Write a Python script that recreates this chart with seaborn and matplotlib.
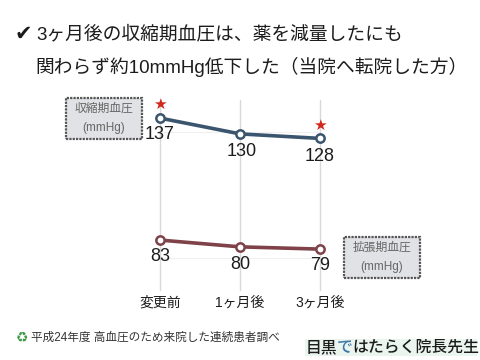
import matplotlib
matplotlib.use("Agg")
import matplotlib.pyplot as plt
from matplotlib.patches import Rectangle
import pandas as pd
import seaborn as sns

# values
periods = ["変更前", "1ヶ月後", "3ヶ月後"]
systolic = [137, 130, 128]
diastolic = [83, 80, 79]
star_flags = [True, False, True]
grid_values = [131, 75]

sns.set_theme(style="white")
plt.rcParams['font.family'] = ['Liberation Sans', 'Noto Sans CJK JP', 'DejaVu Sans']

W, H = 480, 360
NAVY = "#3b556e"
WINE = "#7f4249"
TEXT = "#1c1c1c"

fig = plt.figure(figsize=(4.8, 3.6), dpi=100, facecolor="white")


def fx(px):
    return px / W


def fy(py):
    return 1 - py / H


# axes box runs from first to last category, 100..290 px high
ax = fig.add_axes([fx(160), fy(290), fx(160), (290 - 100) / H])
ax.set_xlim(0, 2)
ax.set_ylim(60.9, 145)
ax.patch.set_alpha(0)

df = pd.DataFrame({"x": range(len(periods)), "sys": systolic, "dia": diastolic})

for v in grid_values:
    ax.axhline(v, color="#f0f0f0", lw=0.8, zorder=0)
for i in df["x"]:
    ax.axvline(i, color="#d9d9d9", lw=1, zorder=0, clip_on=False)

for col, c in [("sys", NAVY), ("dia", WINE)]:
    sns.lineplot(data=df, x="x", y=col, ax=ax, color=c, lw=2.6, marker="o", ms=6,
                 mfc="white", mec=c, mew=1.8, clip_on=False, legend=False, zorder=3)

sys_offsets = [(0, -12), (1, -12.5), (0, -13)]
dia_offsets = [(0, -12), (0, -12.5), (0, -12)]
for i in df["x"]:
    ax.annotate(str(systolic[i]), (i, systolic[i]), xytext=sys_offsets[i], textcoords="offset points",
                ha="center", va="center", fontsize=13, color=TEXT, zorder=5)
    ax.annotate(str(diastolic[i]), (i, diastolic[i]), xytext=dia_offsets[i], textcoords="offset points",
                ha="center", va="center", fontsize=13, color=TEXT, zorder=5)
    if star_flags[i]:
        ax.annotate("★", (i, systolic[i]), xytext=(0, 9.5), textcoords="offset points",
                    ha="center", va="center", fontsize=11, color="#d0281c",
                    family=["DejaVu Sans"], zorder=5)

ax.set_xticks(list(df["x"]))
ax.set_xticklabels(periods, fontsize=10, color=TEXT)
ax.tick_params(axis="x", length=0, pad=4)
ax.set_yticks([])
ax.set_xlabel("")
ax.set_ylabel("")
sns.despine(ax=ax, left=True, bottom=True)

# title
fig.text(fx(15), fy(34), "✔", fontsize=15, color="#1a1a1a", ha="left", va="center",
         family=["DejaVu Sans"])
fig.text(fx(36), fy(34), "3ヶ月後の収縮期血圧は、薬を減量したにも", fontsize=13.5, color=TEXT,
         ha="left", va="center")
fig.text(fx(35), fy(67), "関わらず約10mmHg低下した（当院へ転院した方）", fontsize=13.5, color=TEXT,
         ha="left", va="center")


# label boxes
def label_box(x0, y0, x1, y1, name):
    fig.add_artist(Rectangle((fx(x0), fy(y1)), (x1 - x0) / W, (y1 - y0) / H, transform=fig.transFigure,
                             facecolor="#e1e2e6", edgecolor="#555555", lw=1.6, ls=(0, (1, 0.5))))
    cx = (x0 + x1) / 2
    fig.text(fx(cx), fy(y0 + 11), name, fontsize=8.5, color="#666666", ha="center", va="center")
    fig.text(fx(cx), fy(y0 + 30), "(mmHg)", fontsize=8.5, color="#666666", ha="center", va="center")


label_box(66, 98, 142, 139, "収縮期血圧")
label_box(344, 237, 420, 278, "拡張期血圧")

# footer
fig.text(fx(16), fy(338), "♻", fontsize=10, color="#3f9a4a", ha="left", va="center",
         family=["DejaVu Sans"])
fig.text(fx(31), fy(338), "平成24年度 高血圧のため来院した連続患者調べ", fontsize=8.4, color="#333333",
         ha="left", va="center")

# logo
fig.add_artist(Rectangle((fx(305), fy(356)), 172 / W, 17 / H, transform=fig.transFigure,
                         facecolor="#eaf5ef", edgecolor="none"))
logo_parts = [("目黒", "#1c1c1c", 306), ("で", "#3d78a8", 337), ("はたらく院長先生", "#1c1c1c", 352)]
for s, c, px in logo_parts:
    fig.text(fx(px), fy(347.5), s, fontsize=11.4, color=c, ha="left", va="center", fontweight="medium")

fig.savefig("out.png", dpi=100)
